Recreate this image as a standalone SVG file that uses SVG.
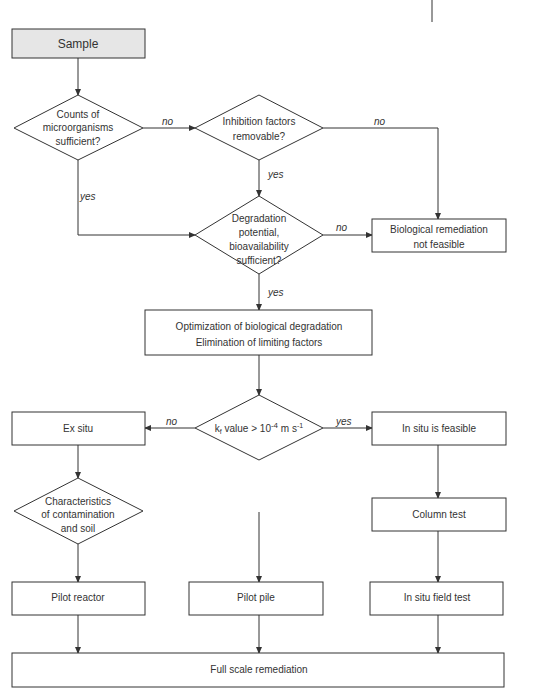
<svg xmlns="http://www.w3.org/2000/svg" width="541" height="698" viewBox="0 0 541 698">
<style>
.n{fill:#fff;stroke:#333;stroke-width:1}
.g{fill:#e6e6e6;stroke:#333;stroke-width:1}
text{font-family:"Liberation Sans",Arial,sans-serif;font-size:10px;fill:#333;text-anchor:middle}
.lb{font-style:italic;text-anchor:start}
.c{fill:none;stroke:#333;stroke-width:1}
</style>
<defs>
<marker id="a" markerWidth="7" markerHeight="6" refX="6" refY="3" orient="auto" markerUnits="userSpaceOnUse">
<path d="M0,0 L7,3 L0,6 Z" fill="#333"/>
</marker>
</defs>
<rect width="541" height="698" fill="#fff"/>
<line x1="432" y1="0" x2="432" y2="22" stroke="#333"/>
<g id="connectors">
<path class="c" d="M78,58 V95" marker-end="url(#a)"/>
<path class="c" d="M143,128 H195" marker-end="url(#a)"/>
<path class="c" d="M323,128 H438 V219" marker-end="url(#a)"/>
<path class="c" d="M259,160 V196" marker-end="url(#a)"/>
<path class="c" d="M78,160 V235 H195" marker-end="url(#a)"/>
<path class="c" d="M323,235 H372" marker-end="url(#a)"/>
<path class="c" d="M259,274 V310" marker-end="url(#a)"/>
<path class="c" d="M259,355 V395" marker-end="url(#a)"/>
<path class="c" d="M195,428 H145" marker-end="url(#a)"/>
<path class="c" d="M323,428 H372" marker-end="url(#a)"/>
<path class="c" d="M78,445 V478" marker-end="url(#a)"/>
<path class="c" d="M78,544 V582" marker-end="url(#a)"/>
<path class="c" d="M259,512 V582" marker-end="url(#a)"/>
<path class="c" d="M438,445 V498" marker-end="url(#a)"/>
<path class="c" d="M438,531 V582" marker-end="url(#a)"/>
<path class="c" d="M78,615 V653" marker-end="url(#a)"/>
<path class="c" d="M259,615 V653" marker-end="url(#a)"/>
<path class="c" d="M438,615 V653" marker-end="url(#a)"/>
<text class="lb" x="162" y="125">no</text>
<text class="lb" x="374" y="125">no</text>
<text class="lb" x="268" y="178">yes</text>
<text class="lb" x="80" y="200">yes</text>
<text class="lb" x="336" y="231">no</text>
<text class="lb" x="268" y="296">yes</text>
<text class="lb" x="166" y="425">no</text>
<text class="lb" x="336" y="425">yes</text>
</g>
<g id="sample"><rect class="g" x="12" y="29" width="133" height="29"/><text x="78" y="48" style="font-size:12px">Sample</text></g>
<g id="counts"><polygon class="n" points="78,95 143,128 78,160 14,128"/><text x="78" y="118">Counts of</text><text x="78" y="131">microorganisms</text><text x="78" y="145">sufficient?</text></g>
<g id="inhibition"><polygon class="n" points="259,95 323,128 259,160 195,128"/><text x="259" y="125">Inhibition factors</text><text x="259" y="140">removable?</text></g>
<g id="degradation"><polygon class="n" points="259,196 323,235 259,274 195,235"/><text x="259" y="222">Degradation</text><text x="259" y="236">potential,</text><text x="259" y="250">bioavailability</text><text x="259" y="264">sufficient?</text></g>
<g id="notfeasible"><rect class="n" x="372" y="219" width="134" height="33"/><text x="439" y="233">Biological remediation</text><text x="439" y="248">not feasible</text></g>
<g id="optimization"><rect class="n" x="145" y="310" width="227" height="45"/><text x="259" y="330">Optimization of biological degradation</text><text x="259" y="346">Elimination of limiting factors</text></g>
<g id="kf"><polygon class="n" points="259,395 323,428 259,460 195,428"/><text x="259" y="432">k<tspan style="font-size:7px" dy="2">f</tspan><tspan dy="-2"> value &gt; 10</tspan><tspan style="font-size:8px" dy="-4">-4</tspan><tspan dy="4"> m s</tspan><tspan style="font-size:7px" dy="-4">-1</tspan></text></g>
<g id="exsitu"><rect class="n" x="12" y="412" width="133" height="33"/><text x="78" y="432">Ex situ</text></g>
<g id="insitufeasible"><rect class="n" x="372" y="412" width="134" height="33"/><text x="439" y="432">In situ is feasible</text></g>
<g id="characteristics"><polygon class="n" points="78,478 143,511 78,544 14,511"/><text x="78" y="505">Characteristics</text><text x="78" y="518">of contamination</text><text x="78" y="532">and soil</text></g>
<g id="column"><rect class="n" x="372" y="498" width="134" height="33"/><text x="439" y="518">Column test</text></g>
<g id="reactor"><rect class="n" x="12" y="582" width="133" height="33"/><text x="78" y="601">Pilot reactor</text></g>
<g id="pile"><rect class="n" x="189" y="582" width="134" height="33"/><text x="256" y="601">Pilot pile</text></g>
<g id="field"><rect class="n" x="370" y="582" width="133" height="33"/><text x="437" y="601">In situ field test</text></g>
<g id="fullscale"><rect class="n" x="12" y="653" width="492" height="34"/><text x="259" y="673">Full scale remediation</text></g>
</svg>
